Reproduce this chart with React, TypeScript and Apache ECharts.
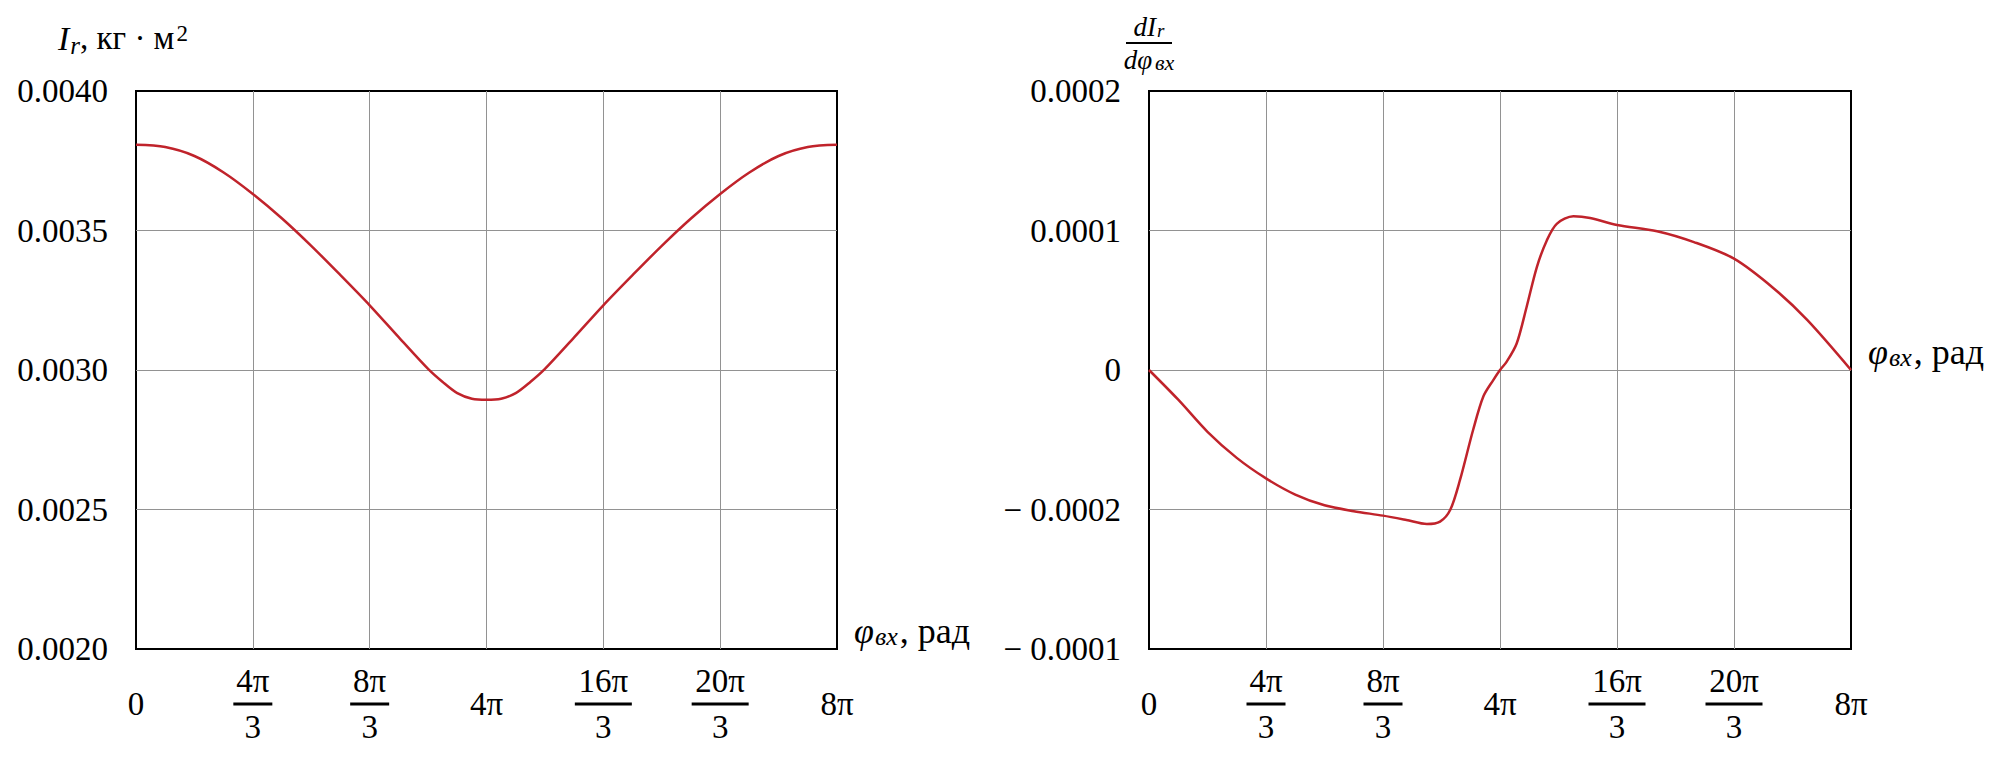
import React, { useEffect, useRef } from "react";
import * as echarts from "echarts";

// x values are in units of π/3 (0 … 24 ⇒ 0 … 8π)
const X_TICK_NUM = ["0", "4π", "8π", "4π", "16π", "20π", "8π"];
const X_TICK_DEN = ["", "3", "3", "", "3", "3", ""];

const LEFT_Y_TICKS = ["0.0020", "0.0025", "0.0030", "0.0035", "0.0040"];
const RIGHT_Y_TICKS = ["− 0.0001", "− 0.0002", "0", "0.0001", "0.0002"];

const LEFT_PHI = [0, 1, 2, 3, 4, 5, 6, 7, 8, 9, 10, 10.5, 11, 11.5, 12, 12.5, 13, 13.5, 14, 15, 16, 17, 18, 19, 20, 21, 22, 23, 24];
const LEFT_I = [
  0.003807, 0.003799, 0.003767, 0.003708, 0.003631, 0.003543, 0.003445, 0.00334, 0.003232, 0.003117,
  0.003004, 0.002957, 0.002917, 0.002897, 0.002893, 0.002897, 0.002917, 0.002957, 0.003004, 0.003117,
  0.003232, 0.00334, 0.003445, 0.003543, 0.003631, 0.003708, 0.003767, 0.003799, 0.003807,
];

const RIGHT_PHI = [
  0, 1, 2, 3, 4, 5, 6, 7, 8, 8.8, 9.5, 9.95, 10.3, 10.63, 11.08, 11.43, 11.77, 12, 12.23, 12.57, 12.91,
  13.26, 13.6, 13.94, 14.51, 15.08, 16, 17.37, 18.63, 20, 21.37, 22.51, 24,
];
const RIGHT_D = [
  0, -0.0000213, -0.0000443, -0.000063, -0.0000777, -0.0000893, -0.000097, -0.0001012, -0.0001044,
  -0.0001075, -0.0001104, -0.0001087, -0.0001002, -0.000079, -0.000043, -0.000019, -0.0000072, 0,
  0.000006, 0.000019, 0.0000452, 0.0000738, 0.0000929, 0.0001048, 0.0001102, 0.000109, 0.000104,
  0.0000995, 0.0000917, 0.0000798, 0.0000583, 0.0000357, 0,
];

const FONT = "'Liberation Serif', 'DejaVu Serif', serif";
const LINE_COLOR = "#C0232B";
const GRID_COLOR = "#929292";

function xLabel(v: number): string {
  const i = Math.round(v / 4);
  const n = X_TICK_NUM[i];
  const d = X_TICK_DEN[i];
  if (!d) return `{w|${n}}`;
  const bar = n.length > 2 ? "bw" : "b";
  return `{n|${n}}\n{${bar}| }\n{d|${d}}`;
}

const xRich = {
  w: { fontFamily: FONT, fontSize: 33, lineHeight: 78, color: "#000" },
  n: { fontFamily: FONT, fontSize: 33, lineHeight: 32, color: "#000" },
  d: { fontFamily: FONT, fontSize: 33, lineHeight: 32, color: "#000" },
  b: { width: 39, height: 3, lineHeight: 14, fontSize: 2, backgroundColor: "#000" },
  bw: { width: 57, height: 3, lineHeight: 14, fontSize: 2, backgroundColor: "#000" },
};

function makeX(gridIndex: number) {
  return {
    type: "value",
    gridIndex,
    min: 0,
    max: 24,
    interval: 4,
    name: "{p|φ}{ps|вх}{t|, рад}",
    nameLocation: "end",
    nameGap: 17,
    nameTextStyle: {
      align: "left",
      verticalAlign: "bottom",
      fontFamily: FONT,
      rich: {
        p: { fontFamily: FONT, fontStyle: "italic", fontSize: 36, lineHeight: 36, color: "#000" },
        ps: { fontFamily: FONT, fontStyle: "italic", fontSize: 26, lineHeight: 36, padding: [10, 2, 0, 1], color: "#000" },
        t: { fontFamily: FONT, fontSize: 36, lineHeight: 36, color: "#000" },
      },
    },
    axisLine: { show: false },
    axisTick: { show: false },
    splitLine: { show: true, showMinLine: false, showMaxLine: false, lineStyle: { color: GRID_COLOR, width: 1 } },
    axisLabel: {
      formatter: xLabel,
      margin: 16,
      fontFamily: FONT,
      rich: xRich,
      interval: 0,
      showMinLabel: true,
      showMaxLabel: true,
    },
  };
}

export default function App() {
  const ref = useRef<HTMLDivElement>(null);
  useEffect(() => {
    if (!ref.current) return;
    const chart = echarts.init(ref.current, undefined, { renderer: "svg" });
    const option = {
      animation: false,
      backgroundColor: "#fff",
      textStyle: { fontFamily: FONT },
      grid: [
        { left: 136, top: 91, width: 701, height: 558, show: true, borderColor: "#000", borderWidth: 2 },
        { left: 1149, top: 91, width: 702, height: 558, show: true, borderColor: "#000", borderWidth: 2 },
      ],
      xAxis: [makeX(0), makeX(1)],
      yAxis: [
        {
          type: "value",
          gridIndex: 0,
          min: 0.002,
          max: 0.004,
          interval: 0.0005,
          name: "{I|I}{r|r}{t|, кг · м}{s|2}",
          nameLocation: "end",
          nameGap: 35,
          nameTextStyle: {
            align: "center",
            verticalAlign: "bottom",
            padding: [0, 26, 0, 0],
            fontFamily: FONT,
            rich: {
              I: { fontFamily: FONT, fontStyle: "italic", fontSize: 34, lineHeight: 36, color: "#000" },
              r: { fontFamily: FONT, fontStyle: "italic", fontSize: 25, lineHeight: 36, padding: [14, 0, 0, 1], color: "#000" },
              t: { fontFamily: FONT, fontSize: 33, lineHeight: 36, color: "#000" },
              s: { fontFamily: FONT, fontSize: 23, lineHeight: 36, padding: [0, 0, 10, 2], color: "#000" },
            },
          },
          axisLine: { show: false },
          axisTick: { show: false },
          splitLine: { show: true, showMinLine: false, showMaxLine: false, lineStyle: { color: GRID_COLOR, width: 1 } },
          axisLabel: {
            margin: 28,
            fontFamily: FONT,
            fontSize: 33,
            color: "#000",
            formatter: (v: number) => LEFT_Y_TICKS[Math.round((v - 0.002) / 0.0005)],
          },
        },
        {
          type: "value",
          gridIndex: 1,
          min: -0.0002,
          max: 0.0002,
          interval: 0.0001,
          name: "{ni|dI}{ns|r}\n{bar| }\n{ni|dφ}{ds|вх}",
          nameLocation: "end",
          nameGap: 18,
          nameTextStyle: {
            align: "center",
            verticalAlign: "bottom",
            fontFamily: FONT,
            rich: {
              ni: { fontFamily: FONT, fontStyle: "italic", fontSize: 27, lineHeight: 27, color: "#000" },
              ns: { fontFamily: FONT, fontStyle: "italic", fontSize: 19, lineHeight: 27, padding: [8, 0, 0, 1], color: "#000" },
              ds: { fontFamily: FONT, fontStyle: "italic", fontSize: 22, lineHeight: 27, padding: [6, 0, 0, 3], color: "#000" },
              bar: { width: 46, height: 2, lineHeight: 6, fontSize: 2, backgroundColor: "#000" },
            },
          },
          axisLine: { show: false },
          axisTick: { show: false },
          splitLine: { show: true, showMinLine: false, showMaxLine: false, lineStyle: { color: GRID_COLOR, width: 1 } },
          axisLabel: {
            margin: 28,
            fontFamily: FONT,
            fontSize: 33,
            color: "#000",
            formatter: (v: number) => RIGHT_Y_TICKS[Math.round(v / 0.0001) + 2],
          },
        },
      ],
      series: [
        {
          type: "line",
          xAxisIndex: 0,
          yAxisIndex: 0,
          data: LEFT_PHI.map((p, i) => [p, LEFT_I[i]]),
          showSymbol: false,
          smooth: 0.3,
          lineStyle: { color: LINE_COLOR, width: 2.5 },
          itemStyle: { color: LINE_COLOR },
        },
        {
          type: "line",
          xAxisIndex: 1,
          yAxisIndex: 1,
          data: RIGHT_PHI.map((p, i) => [p, RIGHT_D[i]]),
          showSymbol: false,
          smooth: 0.3,
          lineStyle: { color: LINE_COLOR, width: 2.5 },
          itemStyle: { color: LINE_COLOR },
        },
      ],
    };
    chart.setOption(option as any);
    return () => chart.dispose();
  }, []);
  return (
    <div
      ref={ref}
      style={{ position: "fixed", left: 0, top: 0, width: 2000, height: 758, background: "#fff" }}
    />
  );
}
